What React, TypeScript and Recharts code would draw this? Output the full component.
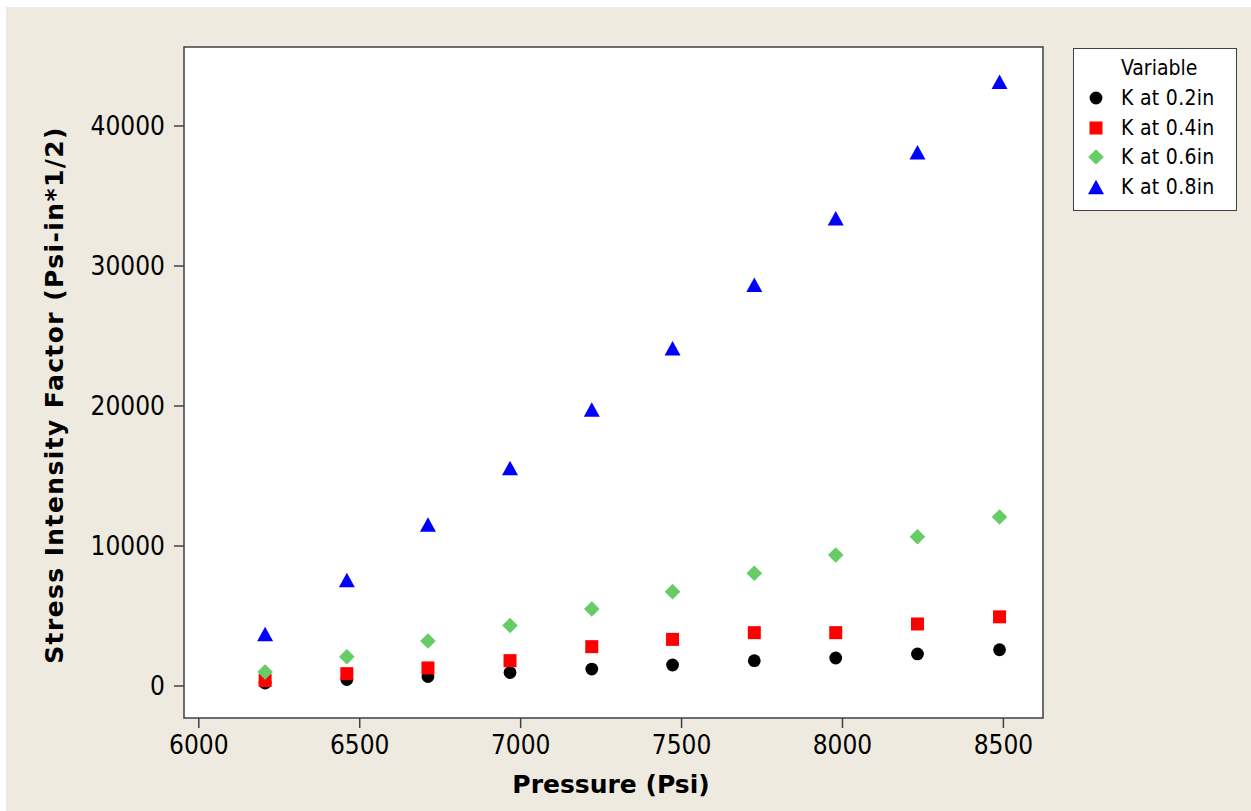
import React from "react";
import {
  CartesianGrid,
  ReferenceArea,
  Scatter,
  ScatterChart,
  XAxis,
  YAxis,
} from "recharts";

// pressure (Psi) at each measurement
const pressure = [6206, 6460, 6712, 6967, 7221, 7472, 7726, 7979, 8233, 8488];

// stress intensity factor for each crack depth
const k02 = [210, 460, 680, 960, 1210, 1500, 1810, 2000, 2290, 2590];
const k04 = [390, 880, 1290, 1810, 2810, 3330, 3810, 3810, 4430, 4940];
const k06 = [1000, 2090, 3210, 4320, 5500, 6740, 8050, 9360, 10660, 12070];
const k08 = [3710, 7570, 11540, 15570, 19750, 24120, 28660, 33410, 38120, 43160];

const seriesNames = ["K at 0.2in", "K at 0.4in", "K at 0.6in", "K at 0.8in"];
const xTicks = [6000, 6500, 7000, 7500, 8000, 8500];
const yTicks = [0, 10000, 20000, 30000, 40000];

const X_DOMAIN = [5954, 8623];
const Y_DOMAIN = [-2286, 45643];

const FONT = "'DejaVu Sans Condensed', 'DejaVu Sans', sans-serif";
const BOLD_FONT = "'DejaVu Sans', sans-serif";
const FRAME = "#404040";

const colors = ["#000000", "#ff0000", "#66cc66", "#0000ff"];

type Pt = { cx?: number; cy?: number };

function Dot({ cx = 0, cy = 0 }: Pt) {
  return <circle cx={cx} cy={cy} r={6.4} fill={colors[0]} />;
}
function Square({ cx = 0, cy = 0 }: Pt) {
  return <rect x={cx - 6.5} y={cy - 6.5} width={13} height={13} fill={colors[1]} />;
}
function Diamond({ cx = 0, cy = 0 }: Pt) {
  const h = 7.8;
  return (
    <polygon
      points={`${cx},${cy - h} ${cx + h},${cy} ${cx},${cy + h} ${cx - h},${cy}`}
      fill={colors[2]}
    />
  );
}
function Triangle({ cx = 0, cy = 0 }: Pt) {
  return (
    <polygon
      points={`${cx},${cy - 7.3} ${cx + 8},${cy + 7.3} ${cx - 8},${cy + 7.3}`}
      fill={colors[3]}
    />
  );
}

const shapes = [Dot, Square, Diamond, Triangle];
const values = [k02, k04, k06, k08];

const toPoints = (ys: number[]) => pressure.map((p, i) => ({ x: p, y: ys[i] }));

function LegendBox() {
  return (
    <div
      style={{
        position: "absolute",
        left: 1073,
        top: 48,
        width: 162,
        height: 161,
        background: "#fff",
        border: `1.5px solid ${FRAME}`,
        fontFamily: FONT,
        fontSize: 21,
        color: "#000",
      }}
    >
      <div style={{ paddingLeft: 47, marginTop: 4, lineHeight: "30px" }}>Variable</div>
      {seriesNames.map((name, i) => {
        const Shape = shapes[i];
        return (
          <div key={name} style={{ display: "flex", alignItems: "center", height: 29.7 }}>
            <svg width={44} height={24} style={{ flex: "none" }}>
              <Shape cx={22} cy={12} />
            </svg>
            <span style={{ marginLeft: 3, letterSpacing: 0.3 }}>{name}</span>
          </div>
        );
      })}
    </div>
  );
}

export default function App() {
  return (
    <div
      style={{
        position: "absolute",
        left: 0,
        top: 0,
        width: 1251,
        height: 811,
        background: "#fff",
        overflow: "hidden",
      }}
    >
      <div
        style={{
          position: "absolute",
          left: 6,
          top: 7,
          right: 0,
          bottom: 0,
          background: "#eeeae0",
        }}
      />
      <div style={{ position: "absolute", left: 0, top: 0 }}>
        <ScatterChart
          width={1251}
          height={811}
          margin={{ top: 47, right: 208, bottom: 33, left: 54 }}
        >
          <CartesianGrid horizontal={false} vertical={false} fill="#fff" />
          <XAxis
            type="number"
            dataKey="x"
            domain={X_DOMAIN}
            ticks={xTicks}
            allowDataOverflow
            height={60}
            axisLine={false}
            tickSize={10}
            tickMargin={8}
            tickLine={{ stroke: FRAME, strokeWidth: 1.5 }}
            tick={{ fill: "#000", fontSize: 26, fontFamily: FONT }}
            label={{
              content: () => (
                <text
                  x={611}
                  y={793}
                  textAnchor="middle"
                  fontFamily={BOLD_FONT}
                  fontWeight="bold"
                  fontSize={25}
                  fill="#000"
                >
                  Pressure (Psi)
                </text>
              ),
            }}
          />
          <YAxis
            type="number"
            dataKey="y"
            domain={Y_DOMAIN}
            ticks={yTicks}
            allowDataOverflow
            width={130}
            axisLine={false}
            tickSize={10}
            tickMargin={9}
            tickLine={{ stroke: FRAME, strokeWidth: 1.5 }}
            tick={{ fill: "#000", fontSize: 26, fontFamily: FONT }}
            label={{
              content: () => (
                <text
                  x={63}
                  y={395}
                  textAnchor="middle"
                  transform="rotate(-90, 63, 395)"
                  fontFamily={BOLD_FONT}
                  fontWeight="bold"
                  fontSize={25}
                  letterSpacing={1.4}
                  fill="#000"
                >
                  Stress Intensity Factor (Psi-in*1/2)
                </text>
              ),
            }}
          />
          <ReferenceArea
            x1={X_DOMAIN[0]}
            x2={X_DOMAIN[1]}
            y1={Y_DOMAIN[0]}
            y2={Y_DOMAIN[1]}
            fill="none"
            fillOpacity={0}
            stroke={FRAME}
            strokeWidth={1.5}
          />
          {values.map((ys, i) => {
            const Shape = shapes[i];
            return (
              <Scatter
                key={seriesNames[i]}
                name={seriesNames[i]}
                data={toPoints(ys)}
                fill={colors[i]}
                isAnimationActive={false}
                shape={(p: Pt) => <Shape cx={p.cx} cy={p.cy} />}
              />
            );
          })}
        </ScatterChart>
      </div>
      <LegendBox />
    </div>
  );
}
